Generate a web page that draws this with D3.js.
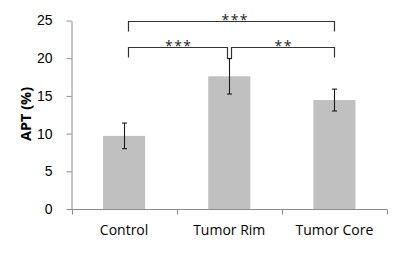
<!DOCTYPE html>
<html>
<head>
<meta charset="utf-8">
<script src="https://cdn.jsdelivr.net/npm/d3@7"></script>
<style>
  body { margin: 0; background: #fff; }
  svg { display: block; font-family: "Open Sans", "Noto Sans", sans-serif; }
</style>
</head>
<body>
<div id="chart"></div>
<script>
// data
const categories = ['Control', 'Tumor Rim', 'Tumor Core'];
const means = [9.7, 17.6, 14.45];
const errors = [1.7, 2.35, 1.45];
const yTicks = [0, 5, 10, 15, 20, 25];
// significance brackets: [from index, to index, level (APT value), label]
const brackets = [
    [0, 2, 25, '***'],
    [0, 1, 21.5, '***'],
    [1, 2, 21.5, '**']
];

const width = 400, height = 266;
const margin = { top: 20.5, right: 13, bottom: 57, left: 71.5 };

const svg = d3.select('#chart').append('svg')
    .attr('width', width)
    .attr('height', height);

const x = d3.scaleBand()
    .domain(categories)
    .range([margin.left, width - margin.right])
    .paddingInner(0.6)
    .paddingOuter(0.3);

const y = d3.scaleLinear()
    .domain([0, 25])
    .range([height - margin.bottom, margin.top]);

const axisColor = '#8c8c8c';

// bars
svg.append('g').selectAll('rect')
    .data(categories)
    .enter().append('rect')
    .attr('x', d => x(d))
    .attr('y', (d, i) => y(means[i]))
    .attr('width', x.bandwidth())
    .attr('height', (d, i) => y(0) - y(means[i]))
    .attr('fill', '#c0c0c0');

// error bars
const eb = svg.append('g').attr('stroke', '#1a1a1a').attr('stroke-width', 1.1).attr('fill', 'none');
categories.forEach((c, i) => {
    const cx = Math.round(x(c) + x.bandwidth() / 2) + 0.5;
    const top = y(means[i] + errors[i]);
    const bot = y(means[i] - errors[i]);
    eb.append('line').attr('x1', cx).attr('x2', cx).attr('y1', top).attr('y2', bot);
    eb.append('line').attr('x1', cx - 2.5).attr('x2', cx + 2.5).attr('y1', top).attr('y2', top);
    eb.append('line').attr('x1', cx - 2.5).attr('x2', cx + 2.5).attr('y1', bot).attr('y2', bot);
});

// y axis
const yAxis = svg.append('g')
    .attr('transform', `translate(${margin.left},0)`)
    .call(d3.axisLeft(y).tickValues(yTicks).tickSize(5).tickPadding(14).tickSizeOuter(0));
yAxis.select('.domain').attr('stroke', axisColor);
yAxis.selectAll('.tick line').attr('stroke', axisColor);
yAxis.selectAll('.tick text')
    .attr('font-size', 14)
    .attr('fill', '#000');

// x axis, ticks at the band boundaries
const xAxisG = svg.append('g').attr('stroke', axisColor).attr('stroke-width', 1);
const y0 = Math.round(y(0)) + 0.5;
xAxisG.append('line')
    .attr('x1', margin.left).attr('x2', width - margin.right)
    .attr('y1', y0).attr('y2', y0);
const step = x.step();
const bounds = d3.range(categories.length + 1).map(k => margin.left + k * step);
bounds.forEach(bx => {
    const px = Math.round(bx) + 0.5;
    xAxisG.append('line').attr('x1', px).attr('x2', px).attr('y1', y0).attr('y2', y0 + 5);
});

svg.append('g').selectAll('text')
    .data(categories)
    .enter().append('text')
    .attr('x', d => x(d) + x.bandwidth() / 2)
    .attr('y', 235)
    .attr('text-anchor', 'middle')
    .attr('font-size', 14)
    .attr('fill', '#000')
    .text(d => d);

// y label
svg.append('text')
    .attr('transform', `translate(31,114) rotate(-90)`)
    .attr('text-anchor', 'middle')
    .attr('font-size', 14.5)
    .attr('font-weight', 'bold')
    .attr('fill', '#000')
    .text('APT (%)');

// significance brackets
const bg = svg.append('g');
brackets.forEach(([a, b, lvl, label]) => {
    let x1 = x(categories[a]) + x.bandwidth() / 2;
    let x2 = x(categories[b]) + x.bandwidth() / 2;
    const yl = Math.round(y(lvl)) + 0.5;
    let yA = yl + 10, yB = yl + 10;
    if (a === 0) x1 += 4;
    if (lvl < 25) {
        // inner brackets meet at the Tumor Rim error bar
        if (a === 1) { x1 += 2; yA = y(means[1] + errors[1]); }
        if (b === 1) { x2 -= 2; yB = y(means[1] + errors[1]); }
    }
    x1 = Math.round(x1) + 0.5;
    x2 = Math.round(x2) + 0.5;
    bg.append('path')
        .attr('d', `M${x1},${yA}V${yl}H${x2}V${yB}`)
        .attr('fill', 'none')
        .attr('stroke', '#333')
        .attr('stroke-width', 1.2);
    bg.append('text')
        .attr('x', (x1 + x2) / 2 + (lvl === 25 ? 3 : 0) + 0.75)
        .attr('y', yl + 3)
        .attr('text-anchor', 'middle')
        .attr('font-size', 14)
        .attr('letter-spacing', 1.5)
        .attr('fill', '#222')
        .text(label);
});
</script>
</body>
</html>
